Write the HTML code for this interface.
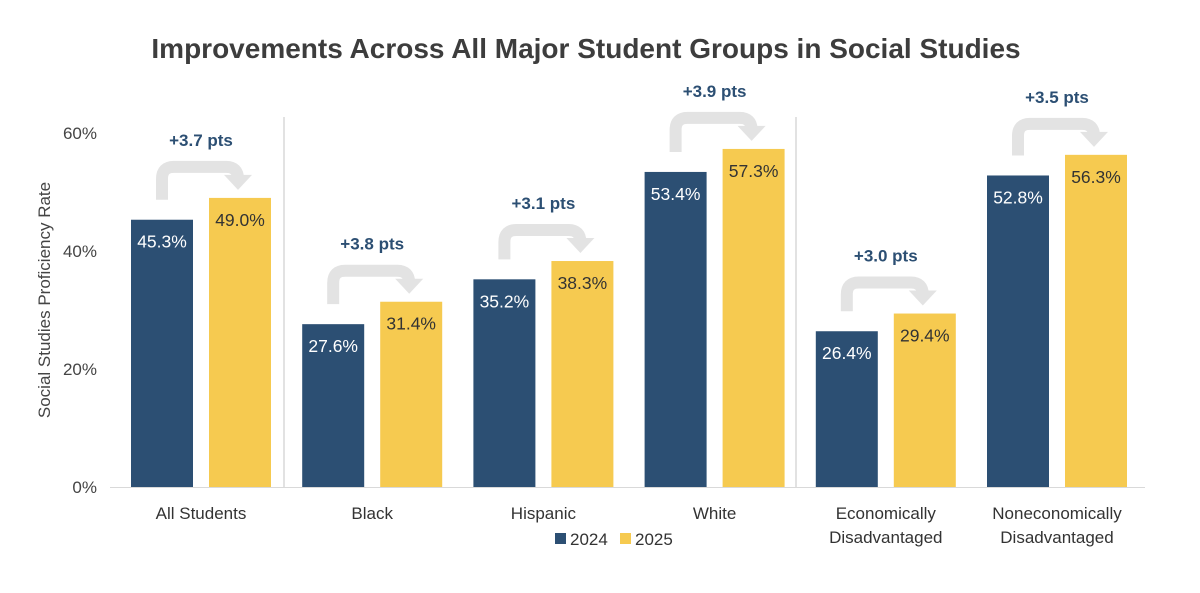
<!DOCTYPE html>
<html><head><meta charset="utf-8"><style>
body{margin:0;background:#fff;}
svg text{font-family:"Liberation Sans",sans-serif;}
</style></head><body>
<svg id="c" width="1200" height="588" viewBox="0 0 1200 588">
<text x="586" y="58" text-anchor="middle" font-size="28" font-weight="bold" fill="#3d3d3d">Improvements Across All Major Student Groups in Social Studies</text>
<text transform="translate(50,300) rotate(-90)" text-anchor="middle" font-size="17" fill="#444">Social Studies Proficiency Rate</text>
<g id="g"></g>
</svg>
<script>
const categories=[["All Students"],["Black"],["Hispanic"],["White"],["Economically","Disadvantaged"],["Noneconomically","Disadvantaged"]];
const values2024=[45.3,27.6,35.2,53.4,26.4,52.8];
const values2025=[49.0,31.4,38.3,57.3,29.4,56.3];
const changes=["+3.7 pts","+3.8 pts","+3.1 pts","+3.9 pts","+3.0 pts","+3.5 pts"];
const ticks=[0,20,40,60];
const NS="http://www.w3.org/2000/svg",g=document.getElementById('g');
const y=v=>487-v*5.9, cx=i=>201+i*171.2;
function el(t,a,txt){const e=document.createElementNS(NS,t);for(const k in a)e.setAttribute(k,a[k]);if(txt!=null)e.textContent=txt;g.appendChild(e);return e;}
ticks.forEach(t=>{const e=el('text',{x:97,y:y(t)+6,'text-anchor':'end','font-size':17,fill:'#444'},t+'%');

});
[284,796].forEach((x,k)=>{const e=el('line',{x1:x,x2:x,y1:117,y2:487,stroke:'#d9d9d9','stroke-width':1.5});

});
const base=el('line',{x1:110,x2:1145,y1:487.5,y2:487.5,stroke:'#d9d9d9','stroke-width':1});


categories.forEach((c,i)=>{
 const xb=cx(i)-70,xy=cx(i)+8,w=62;
 const yb=y(values2024[i]),yy=y(values2025[i]);
 const b=el('rect',{x:xb,y:yb,width:w,height:487-yb,fill:'#2c4f73'});
 
 
 const b2=el('rect',{x:xy,y:yy,width:w,height:487-yy,fill:'#f6ca50'});
 
 
 const l1=el('text',{x:xb+w/2,y:yb+28,'text-anchor':'middle','font-size':17.5,fill:'#fff'},values2024[i].toFixed(1)+'%');
 
 
 const l2=el('text',{x:xy+w/2,y:yy+28,'text-anchor':'middle','font-size':17.5,fill:'#333'},values2025[i].toFixed(1)+'%');
 
 
 const top=yy-31,x1=xb+w/2,x2=xy+w/2-2,r=12;
 const p=el('path',{d:`M${x1} ${yb-20} V${top+r} Q${x1} ${top} ${x1+r} ${top} H${x2-r} Q${x2} ${top} ${x2} ${top+r} V${yy-22}`,fill:'none',stroke:'#e3e3e3','stroke-width':12});
 
 
 const h=el('path',{d:`M${x2-14} ${yy-23} L${x2+14} ${yy-23} L${x2} ${yy-8} Z`,fill:'#e3e3e3'});
 
 
 const ct=el('text',{x:cx(i),y:top-21,'text-anchor':'middle','font-size':17,'font-weight':'bold',fill:'#2c4f73'},changes[i]);
 
 
 c.forEach((s,k)=>{const t=el('text',{x:cx(i),y:519+k*24,'text-anchor':'middle','font-size':17,fill:'#333'},s);
 
 });
});
[[555,'#2c4f73','2024'],[620,'#f6ca50','2025']].forEach(([x,f,t])=>{
 const r=el('rect',{x:x,y:533,width:11,height:11,fill:f});
 
 
 const tx=el('text',{x:x+15,y:545,'font-size':17,fill:'#333'},t);
 
 
});
</script>
</body></html>
